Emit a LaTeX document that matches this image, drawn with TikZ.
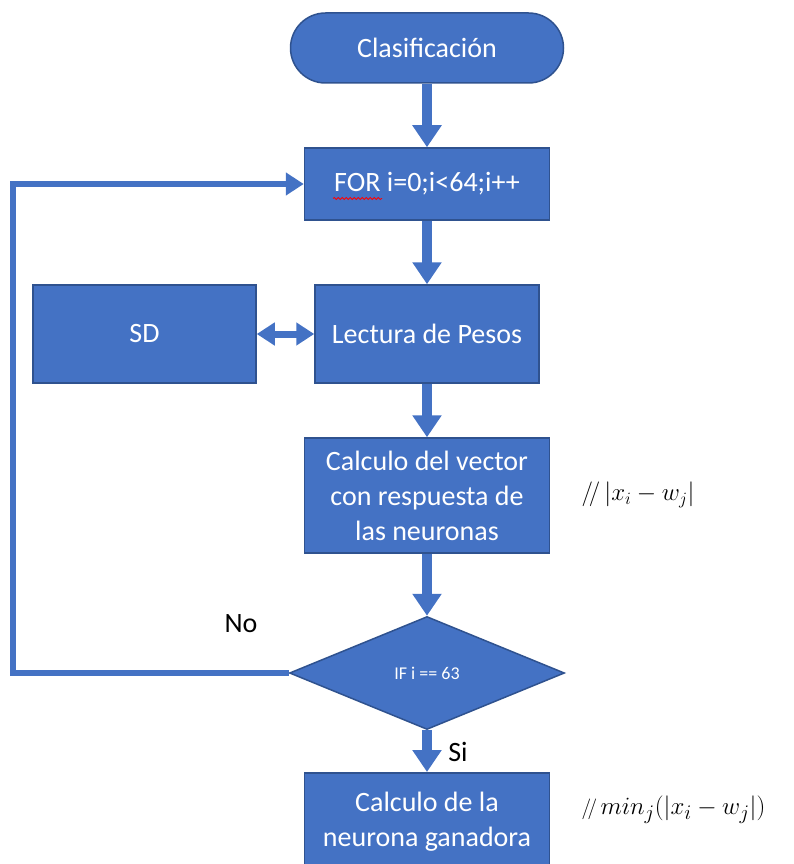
\documentclass[tikz,border=0pt]{standalone}
\usepackage{fontspec}
\setmainfont{Carlito}
\usetikzlibrary{arrows.meta,shapes.geometric,decorations.pathmorphing}
\definecolor{boxblue}{HTML}{4472C4}
\definecolor{edgeblue}{HTML}{2F528F}
\tikzset{
  blk/.style={rectangle,fill=boxblue,draw=edgeblue,line width=1.5pt,text=white,
    inner sep=0pt,align=center,font=\fontsize{28}{35}\selectfont},
  term/.style={blk,rounded corners=35pt},
  dec/.style={diamond,fill=boxblue,draw=edgeblue,line width=1.5pt,text=white,inner sep=0pt,
    font=\fontsize{18}{20}\selectfont},
  bigarrow/.style={draw=boxblue,line width=10pt,-{Triangle[width=28pt,length=22pt]}},
  loopline/.style={draw=boxblue,line width=6pt,-{Triangle[width=22pt,length=18pt]}},
  dblarrow/.style={draw=boxblue,line width=7pt,{Triangle[width=22pt,length=18pt]}-{Triangle[width=22pt,length=18pt]}},
  lbl/.style={font=\fontsize{28}{30}\selectfont,text=black},
  note/.style={font=\fontsize{23}{26}\selectfont,text=black,anchor=west},
  squiggle/.style={draw=red,line width=0.8pt,decorate,decoration={snake,amplitude=1pt,segment length=4pt}}
}
\begin{document}
\begin{tikzpicture}[x=1pt,y=-1pt]
\useasboundingbox (0,0) rectangle (793,864);
\node[term,minimum width=273pt,minimum height=70pt] (cls) at (427,48) {Clasificación};
\node[blk,minimum width=245pt,minimum height=72pt] (for) at (427,184) {FOR i=0;i<64;i++};
\node[blk,minimum width=224pt,minimum height=98pt] (lec) at (427,334) {Lectura de Pesos};
\node[blk,minimum width=223pt,minimum height=98pt] (sd) at (144.5,334) {SD};
\node[blk,minimum width=245pt,minimum height=115pt] (calc) at (427,495.5) {Calculo del vector\\con respuesta de\\las neuronas};
\node[dec,minimum width=275pt,minimum height=113pt,aspect=2.43] (ifn) at (427,673) {IF i == 63};
\node[blk,minimum width=245pt,minimum height=110pt,anchor=north] (gan) at (427,772) {};
\node[text=white,align=center,font=\fontsize{28}{35}\selectfont] (gantxt) at (427,822) {Calculo de la\\neurona ganadora};
\node[lbl] (no) at (241,624) {No};
\node[lbl] (si) at (458,752) {Si};
\node[note] (n1) at (578,495) {$/\!/\,\bigl|x_i-w_j\bigr|$};
\node[note,font=\fontsize{29}{31}\selectfont] (n2) at (578,810) {$\scriptstyle/\!/\,\textstyle min_j\bigl(\bigl|x_i-w_j\bigr|\bigr)$};
\coordinate (c1) at (13,673);
\coordinate (c2) at (13,184);
\coordinate (sq1) at (333,198.5);
\coordinate (sq2) at (382,198.5);
\draw[bigarrow] (cls.south) -- (for.north);
\draw[bigarrow] (for.south) -- (lec.north);
\draw[bigarrow] (lec.south) -- (calc.north);
\draw[bigarrow] (calc.south) -- (ifn.north);
\draw[bigarrow] (ifn.south) -- (gan.north);
\draw[dblarrow] (sd.east) -- (lec.west);
\draw[loopline] (ifn.west) -- (c1) -- (c2) -- (for.west);
\draw[squiggle] (sq1) -- (sq2);
\end{tikzpicture}
\end{document}
